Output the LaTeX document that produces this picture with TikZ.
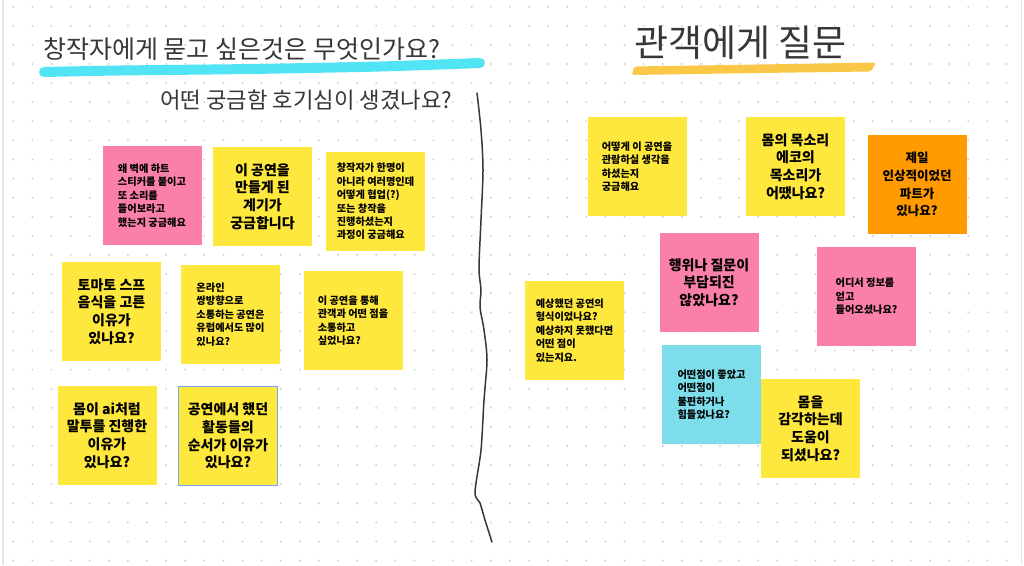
\documentclass[tikz,border=0pt]{standalone}
\usepackage{fontspec}
\setmainfont{Noto Sans CJK KR}
\definecolor{ylw}{RGB}{255,232,61}
\definecolor{pnk}{RGB}{250,128,168}
\definecolor{org}{RGB}{255,155,0}
\definecolor{cyn}{RGB}{126,221,234}
\definecolor{dotc}{RGB}{208,208,208}
\definecolor{hlb}{RGB}{80,228,245}
\definecolor{hly}{RGB}{250,200,70}
\definecolor{ink}{RGB}{55,55,55}
\definecolor{selb}{RGB}{120,165,235}
\definecolor{edge}{RGB}{228,228,228}
\tikzset{
  note/.style={minimum width=99pt, minimum height=99pt, inner sep=0pt, text=black},
  bignote/.style={note, align=center, font=\fontsize{14}{17.7}\selectfont\bfseries},
  smallnote/.style={note, align=left, font=\fontsize{10.2}{13.4}\selectfont\bfseries},
  title/.style={anchor=base west, inner sep=0pt, text=ink},
}
\begin{document}
\begin{tikzpicture}[x=1pt,y=-1pt]
\useasboundingbox[fill=white] (0,0) rectangle (1024,565);
% frame edges
\draw[edge, line width=1.5pt] (3,0) -- (3,565);
\draw[edge, line width=1.5pt] (1021.5,0) -- (1021.5,565);
% dot grid
\foreach \i in {0,...,52}{
  \foreach \j in {0,...,29}{
    \fill[dotc] (13.3+19.1*\i, 6.7+19.1*\j) circle (1.1pt);
  }
}
% highlighters
\draw[hlb, line width=10pt, line cap=round, line join=round]
  plot[smooth] coordinates {(44,72) (120,70.5) (250,69) (380,66.5) (480,63)};
\fill[hly, rounded corners=2pt] (634,66.5) -- (760,64.5) -- (876,62.5) -- (871,71.5) -- (760,73) -- (632,75) -- cycle;
% titles
\node[title, font=\fontsize{25}{30}\selectfont] (t1) at (43,58) {창작자에게 묻고 싶은것은 무엇인가요?};
\node[title, font=\fontsize{22.3}{26}\selectfont] (t2) at (160,108) {어떤 궁금함 호기심이 생겼나요?};
\node[title, font=\fontsize{37}{44}\selectfont] (t3) at (634,56) {관객에게 질문};
% divider
\draw[ink, line width=1.5pt, line cap=round]
  plot[smooth] coordinates {(477,93) (481,130) (483,170) (481,220) (479,268) (481,290) (480,307) (484,330) (487,360) (484,400) (481,450) (475,492) (480,503) (485,520) (492,542)};
% left notes
\node[smallnote, fill=pnk] (n1) at (152,195.5) {왜 벽에 하트\\스티커를 붙이고\\또 소리를\\들어보라고\\했는지 궁금해요};
\node[bignote, fill=ylw] (n2) at (262.5,196.5) {이 공연을\\만들게 된\\계기가\\궁금합니다};
\node[smallnote, fill=ylw] (n3) at (375.5,201.5) {창작자가 한명이\\아니라 여러명인데\\어떻게 협업(?)\\또는 창작을\\진행하셨는지\\과정이 궁금해요};
\node[bignote, fill=ylw] (n4) at (111.5,311.5) {토마토 스프\\음식을 고른\\이유가\\있나요?};
\node[smallnote, fill=ylw] (n5) at (230.5,314.5) {온라인\\쌍방향으로\\소통하는 공연은\\유럽에서도 많이\\있나요?};
\node[smallnote, fill=ylw] (n6) at (353,320.5) {이 공연을 통해\\관객과 어떤 점을\\소통하고\\싶었나요?};
\node[bignote, fill=ylw] (n7) at (107,435.5) {몸이 ai처럼\\말투를 진행한\\이유가\\있나요?};
\node[bignote, fill=ylw, draw=selb, line width=0.8pt] (n8) at (228,436) {공연에서 했던\\활동들의\\순서가 이유가\\있나요?};
% right notes
\node[smallnote, fill=ylw] (n9) at (637,166.5) {어떻게 이 공연을\\관람하실 생각을\\하셨는지\\궁금해요};
\node[bignote, fill=ylw] (n10) at (795.5,166.5) {몸의 목소리\\에코의\\목소리가\\어땠나요?};
\node[bignote, fill=org, font=\fontsize{12.5}{17.7}\selectfont\bfseries] (n11) at (917,184.5) {제일\\인상적이었던\\파트가\\있나요?};
\node[bignote, fill=pnk] (n12) at (709,282.5) {행위나 질문이\\부담되진\\않았나요?};
\node[smallnote, fill=pnk] (n13) at (866.5,296.5) {어디서 정보를\\얻고\\들어오셨나요?};
\node[smallnote, fill=ylw] (n14) at (574.5,330.5) {예상했던 공연의\\형식이었나요?\\예상하지 못했다면\\어떤 점이\\있는지요.};
\node[smallnote, fill=cyn] (n15) at (711.5,394.5) {어떤점이 좋았고\\어떤점이\\불편하거나\\힘들었나요?};
\node[bignote, fill=ylw] (n16) at (810.5,428.5) {몸을\\감각하는데\\도움이\\되셨나요?};
\end{tikzpicture}
\end{document}
